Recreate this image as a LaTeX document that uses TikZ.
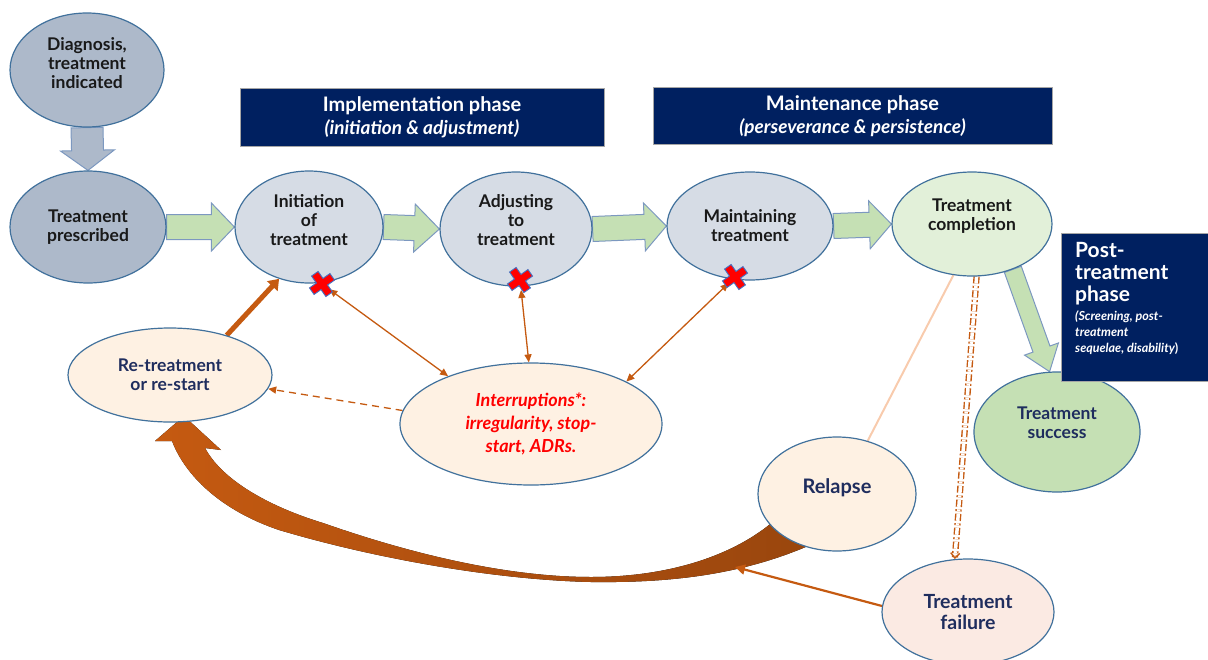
\documentclass[tikz,border=0pt]{standalone}
\usepackage{fontspec}
\setmainfont{Lato}
\usetikzlibrary{shapes.geometric,arrows.meta,calc}
\pgfdeclarelayer{background}
\pgfsetlayers{background,main}

\definecolor{nodeborder}{HTML}{41719C}
\definecolor{slate}{HTML}{ADB9CA}
\definecolor{paleblue}{HTML}{D6DCE5}
\definecolor{palegreen}{HTML}{E2F0D9}
\definecolor{midgreen}{HTML}{C5E0B4}
\definecolor{peach}{HTML}{FEF1E3}
\definecolor{blush}{HTML}{FBEAE3}
\definecolor{navy}{HTML}{002060}
\definecolor{rust}{HTML}{C55A11}
\definecolor{textnavy}{HTML}{1F2D5E}
\definecolor{arrowedge}{HTML}{7C98C0}
\definecolor{lightpeach}{HTML}{F8CBAD}
\definecolor{crossedge}{HTML}{4472C4}

% block arrow: style, start, end, half shaft, half head, head length
\newcommand\blockarrow[6]{%
  \path let \p1=(#2), \p2=(#3), \n1={atan2(\y2-\y1,\x2-\x1)}, \n2={veclen(\x2-\x1,\y2-\y1)} in
    \pgfextra{\xdef\baangle{\n1}\xdef\balen{\n2}};
  \filldraw[#1, shift={(#2)}, rotate=\baangle]
    (0pt,-#4pt) -- ({\balen-#6},-#4pt) -- ({\balen-#6},-#5pt) -- ({\balen},0pt)
    -- ({\balen-#6},#5pt) -- ({\balen-#6},#4pt) -- (0pt,#4pt) -- cycle;
}

\tikzset{
  stage/.style={ellipse, draw=nodeborder, line width=1.2pt, inner sep=0pt,
    align=center, font=\bfseries\fontsize{17.5}{19}\selectfont, text=black!90},
  phasebox/.style={fill=navy, draw=gray!70, line width=1pt, text=white, inner sep=0pt},
  greenarrow/.style={fill=midgreen, draw=arrowedge, line width=1pt},
  slatearrow/.style={fill=slate, draw=arrowedge, line width=1pt},
  link/.style={rust, line width=1.3pt},
  tipsm/.style={-{Triangle[length=8pt,width=7pt]}},
  bothtips/.style={{Triangle[length=8pt,width=7pt]}-{Triangle[length=8pt,width=7pt]}},
  xmark/.pic={\filldraw[fill=red, draw=crossedge, line width=0.9pt, rotate=35]
    (-4,-12.5) -- (4,-12.5) -- (4,-4) -- (12.5,-4) -- (12.5,4) -- (4,4)
    -- (4,12.5) -- (-4,12.5) -- (-4,4) -- (-12.5,4) -- (-12.5,-4) -- (-4,-4) -- cycle;}
}

\begin{document}
\begin{tikzpicture}[x=1pt, y=-1pt]
\useasboundingbox (0,0) rectangle (1208,659);

% phase headers
\node[phasebox, minimum width=364pt, minimum height=58pt, align=center,
  font=\bfseries\fontsize{20}{23}\selectfont] (implhead) at (422,117)
  {Implementation phase\\{\itshape\fontsize{19}{23}\selectfont (initiation \& adjustment)}};
\node[phasebox, minimum width=399pt, minimum height=57pt, align=center,
  font=\bfseries\fontsize{20}{23}\selectfont] (mainthead) at (852.5,116)
  {Maintenance phase\\{\itshape\fontsize{19}{23}\selectfont (perseverance \& persistence)}};

% treatment stages
\node[stage, fill=slate, minimum width=154pt, minimum height=114pt, text depth=14pt] (diag) at (87,70)
  {Diagnosis,\\treatment\\indicated};
\node[stage, fill=slate, minimum width=156pt, minimum height=112pt] (tp) at (88,227)
  {Treatment\\prescribed};
\node[stage, fill=paleblue, minimum width=148pt, minimum height=112pt, text depth=14pt] (init) at (309,227)
  {Initiation\\of\\treatment};
\node[stage, fill=paleblue, minimum width=152pt, minimum height=114pt, text depth=18pt] (adj) at (516,229)
  {Adjusting\\to\\treatment};
\node[stage, fill=paleblue, minimum width=166pt, minimum height=108pt] (maint) at (750,226)
  {Maintaining\\treatment};
\node[stage, fill=palegreen, minimum width=160pt, minimum height=104pt, text depth=18pt] (comp) at (972,224)
  {Treatment\\completion};
\node[stage, fill=midgreen, text=textnavy, minimum width=166pt, minimum height=120pt, text depth=19pt] (success) at (1057,432)
  {Treatment\\success};
\node[stage, fill=peach, text=textnavy, minimum width=158pt, minimum height=114pt, text depth=16pt,
  font=\bfseries\fontsize{20}{22}\selectfont] (relapse) at (837,494) {Relapse};
\node[stage, fill=blush, text=textnavy, minimum width=172pt, minimum height=106pt,
  font=\bfseries\fontsize{19.5}{21}\selectfont] (failure) at (968,612) {Treatment\\failure};
\node[stage, fill=peach, text=textnavy, minimum width=204pt, minimum height=94pt] (retreat) at (170,375)
  {Re-treatment\\or re-start};
\node[stage, fill=peach, text=red, minimum width=262pt, minimum height=122pt,
  font=\bfseries\itshape\fontsize{18}{23}\selectfont] (interrupt) at (531,424)
  {Interruptions*:\\irregularity, stop-\\start, ADRs.};

% interruption marks
\coordinate (x1) at (322,284);
\coordinate (x2) at (520,280);
\coordinate (x3) at (735,277);
\coordinate (curvehit) at (735,567);

\begin{pgfonlayer}{background}
  % block arrows along the pathway
  \blockarrow{slatearrow}{diag.south}{tp.north}{16}{27}{20}
  \blockarrow{greenarrow}{tp.east}{init.west}{12.5}{24}{23}
  \blockarrow{greenarrow}{init.east}{adj.west}{12.5}{24}{25}
  \blockarrow{greenarrow}{adj.east}{maint.west}{12.5}{24}{22}
  \blockarrow{greenarrow}{maint.east}{comp.west}{12.5}{24}{22}
  \blockarrow{greenarrow}{comp.-48}{success.97}{9}{18}{24}

  % large return arrow from relapse back to re-treatment
  \fill[left color=rust, middle color=rust, right color=rust!78!black]
    (808,546) .. controls (740,575) and (670,583) .. (591,582)
    .. controls (500,580) and (380,560) .. (279,530)
    .. controls (220,510) and (185,475) .. (172,441)
    -- (155,441) -- (184,416) -- (221,450) -- (205,448)
    .. controls (225,485) and (280,510) .. (323,523)
    .. controls (400,550) and (500,577) .. (591,577)
    .. controls (670,577) and (735,555) .. (775,520) -- cycle;

  % outcome links
  \draw[lightpeach, line width=2pt] (comp.250) -- (relapse.60);
  \draw[rust, line width=1.4pt, double=white, double distance=3.5pt,
    dash pattern=on 7pt off 2.5pt on 2pt off 2.5pt, -{Straight Barb[length=5pt,width=9pt]}]
    (comp.275) -- (failure.104);
  \draw[link, line width=2.2pt, -{Triangle[length=10pt,width=10pt]}] (failure.176) -- (curvehit);

  % interruptions
  \draw[link, bothtips, shorten <=9pt] (x1) -- (interrupt.150);
  \draw[link, bothtips, shorten <=10pt] (x2) -- (interrupt.92);
  \draw[link, bothtips, shorten <=9pt] (x3) -- (interrupt.24);
  \draw[link, tipsm, dash pattern=on 7pt off 5pt] (interrupt.174) -- (retreat.-8);
  \draw[rust, line width=5pt, -{Triangle[length=10pt,width=14pt]}] (retreat.35) -- (init.240);
\end{pgfonlayer}

\pic at (x1) {xmark};
\pic at (x2) {xmark};
\pic at (x3) {xmark};

% post-treatment phase
\node[phasebox, anchor=north west, minimum width=147pt, minimum height=148pt] (posthead) at (1061,233) {};
\node[anchor=north west, inner sep=0pt, text=white, align=left,
  font=\bfseries\fontsize{21}{22}\selectfont] (posttitle) at (1075,242)
  {Post-\\treatment\\phase};
\node[anchor=north west, inner sep=0pt, text=white, align=left,
  font=\bfseries\itshape\fontsize{12.5}{16}\selectfont] (postnote) at (1075,311)
  {(Screening, post-\\treatment\\sequelae, disability{\upshape)}};
\end{tikzpicture}
\end{document}
